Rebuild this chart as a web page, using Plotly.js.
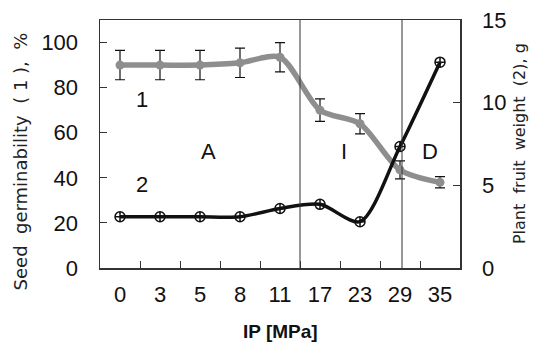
<!DOCTYPE html>
<html><head><meta charset="utf-8">
<script src="https://cdn.plot.ly/plotly-3.0.1.min.js"></script>
<style>body{margin:0;background:#fff}#c{width:533px;height:345px}</style>
</head><body><div id="c"></div>
<script>
const categories = ["0","3","5","8","11","17","23","29","35"];
const germination = [90, 90, 90, 91, 93.5, 70, 64, 43.5, 38];
const germinationErr = [6.5, 6.5, 6.5, 6.5, 6.5, 5, 4.5, 4, 2.5];
const fruitWeight = [3.1, 3.1, 3.1, 3.1, 3.6, 3.85, 2.8, 7.35, 12.45];
const font = "Liberation Sans, Arial, sans-serif";

const traces = [
  {x: categories, y: germination, type: "scatter", mode: "lines+markers",
   line: {color: "#8e8e8e", width: 5.5, shape: "spline", smoothing: 0.8},
   marker: {color: "#8e8e8e", size: 9},
   error_y: {type: "data", array: germinationErr, visible: true, color: "#111", thickness: 1.2, width: 5},
   yaxis: "y", showlegend: false},
  {x: categories, y: fruitWeight, type: "scatter", mode: "lines+markers",
   line: {color: "#111", width: 3.5, shape: "spline", smoothing: 0.8},
   marker: {symbol: "circle-cross-open", color: "#111", size: 10, line: {width: 1.5, color: "#111"}},
   yaxis: "y2", showlegend: false}
];

const layout = {
  width: 533, height: 345,
  margin: {l: 100, r: 73, t: 20, b: 77},
  paper_bgcolor: "#fff", plot_bgcolor: "#fff",
  font: {family: font, size: 22, color: "#111"},
  xaxis: {type: "category", range: [-0.5, 8.5], tickson: "boundaries",
    ticks: "inside", ticklen: 7, tickcolor: "#333", showgrid: false, zeroline: false,
    showline: true, linecolor: "#333", linewidth: 1.5, mirror: true,
    tickfont: {size: 22}, ticklabelstandoff: 6},
  yaxis: {range: [0, 110], dtick: 20, ticks: "inside", ticklen: 7, tickcolor: "#333",
    showgrid: false, zeroline: false, showline: true, linecolor: "#333", linewidth: 1.5,
    tickfont: {size: 22}, ticklabelstandoff: 16},
  yaxis2: {range: [0, 15], dtick: 5, overlaying: "y", side: "right",
    ticks: "inside", ticklen: 7, tickcolor: "#333", showgrid: false, zeroline: false,
    showline: true, linecolor: "#333", linewidth: 1.5,
    tickfont: {size: 22}, ticklabelstandoff: 16},
  shapes: [
    {type: "line", xref: "x", yref: "paper", x0: 4.5, x1: 4.5, y0: 0, y1: 1, line: {color: "#333", width: 1}},
    {type: "line", xref: "x", yref: "paper", x0: 7.05, x1: 7.05, y0: 0, y1: 1, line: {color: "#333", width: 1}}
  ],
  annotations: [
    {text: "1", x: 0.55, y: 74.7, xref: "x", yref: "y", showarrow: false, font: {size: 22}},
    {text: "A", x: 2.2, y: 51.5, xref: "x", yref: "y", showarrow: false, font: {size: 22}},
    {text: "2", x: 0.55, y: 37, xref: "x", yref: "y", showarrow: false, font: {size: 22}},
    {text: "I", x: 5.6, y: 51.5, xref: "x", yref: "y", showarrow: false, font: {size: 22}},
    {text: "D", x: 7.75, y: 51.5, xref: "x", yref: "y", showarrow: false, font: {size: 22}},
    {text: "Seed&nbsp; germinability&nbsp; (&nbsp;1&nbsp;),&nbsp; %", textangle: -90, xref: "paper", yref: "paper",
     x: -0.222, y: 0.43, xanchor: "center", yanchor: "middle", showarrow: false,
     font: {family: "DejaVu Sans, sans-serif", size: 18, color: "#222"}},
    {text: "Plant&nbsp; fruit&nbsp; weight&nbsp; (2), g", textangle: -90, xref: "paper", yref: "paper",
     x: 1.164, y: 0.5, xanchor: "center", yanchor: "middle", showarrow: false,
     font: {family: "DejaVu Sans, sans-serif", size: 16, color: "#222"}},
    {text: "<b>IP [MPa]</b>", xref: "paper", yref: "paper", x: 0.5, y: -0.255,
     xanchor: "center", yanchor: "middle", showarrow: false, font: {size: 19, color: "#111"}}
  ]
};
Plotly.newPlot("c", traces, layout, {displayModeBar: false, staticPlot: true});
</script></body></html>
